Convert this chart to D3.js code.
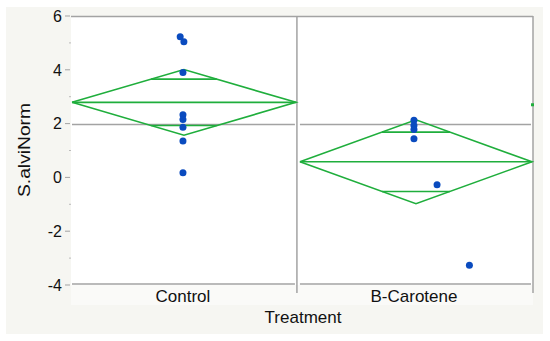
<!DOCTYPE html>
<html>
<head>
<meta charset="utf-8">
<script src="https://cdn.jsdelivr.net/npm/d3@7"></script>
<style>
  html, body { margin: 0; padding: 0; background: #fff; }
  svg { display: block; font-family: "Liberation Sans", Arial, sans-serif; }
</style>
</head>
<body>
<svg id="chart" width="550" height="341"></svg>
<script>
(function () {
// groups and their values
const groups = ['Control', 'B-Carotene'];
const controlValues = [5.23, 5.04, 3.90, 2.33, 2.15, 1.86, 1.35, 0.17];
const controlJitter = [-0.006, 0.002, 0, 0, 0, 0, 0, 0];
const caroteneValues = [2.12, 1.93, 1.78, 1.44, -0.27, -3.27];
const caroteneJitter = [0, 0, 0, 0, 0.05, 0.12];
const groupMeans = [2.79, 0.58];
const groupHalfCI = [1.22, 1.56];
const grandMean = 1.97;
const yTicks = [-4, -2, 0, 2, 4, 6];
const yMinorTicks = [-3, -1, 1, 3, 5];

const svg = d3.select('#chart');
const pLeft = 71, pRight = 533, pTop = 16, pBottom = 285;
const split = 0.489; // share of the width for the first group

const y = d3.scaleLinear().domain([-4, 6]).range([pBottom, pTop]);
// x position inside the whole frame, 0..1
const x = d3.scaleLinear().domain([0, 1]).range([pLeft, pRight]);
const panels = [[0, split], [split, 1]];

const grey = '#a3a3a3';
const green = '#1fae3c';
const blue = '#0a4bbf';

// backgrounds
svg.append('rect').attr('x', 6).attr('y', 7).attr('width', 537).attr('height', 327).attr('fill', '#f6f6f2');
svg.append('rect').attr('x', pLeft).attr('y', pBottom).attr('width', pRight - pLeft).attr('height', 20).attr('fill', '#fafaf8');
svg.append('rect').attr('x', pLeft).attr('y', pTop).attr('width', pRight - pLeft).attr('height', pBottom - pTop).attr('fill', '#fff');

// y axis
const yAxis = svg.append('g');
yAxis.selectAll('line.maj').data(yTicks).enter().append('line')
  .attr('x1', 65).attr('x2', 70).attr('y1', d => y(d)).attr('y2', d => y(d))
  .attr('stroke', grey).attr('stroke-width', 1);
yAxis.selectAll('line.min').data(yMinorTicks).enter().append('line')
  .attr('x1', 69).attr('x2', 71).attr('y1', d => y(d)).attr('y2', d => y(d))
  .attr('stroke', '#bbb').attr('stroke-width', 1);
yAxis.selectAll('text').data(yTicks).enter().append('text')
  .attr('x', 62).attr('y', d => y(d)).attr('dy', '0.36em')
  .attr('text-anchor', 'end').attr('font-size', 16).attr('fill', '#111')
  .text(d => d);

svg.append('text')
  .attr('transform', `translate(30,150) rotate(-90)`)
  .attr('text-anchor', 'middle').attr('font-size', 17).attr('fill', '#111')
  .attr('textLength', 94).attr('lengthAdjust', 'spacingAndGlyphs')
  .text('S.alviNorm');

// frame lines
svg.append('line').attr('x1', pLeft).attr('x2', pRight).attr('y1', pTop + 0.5).attr('y2', pTop + 0.5)
  .attr('stroke', grey).attr('stroke-width', 1.5);
[split, 1].forEach(p => {
  svg.append('line').attr('x1', x(p)).attr('x2', x(p)).attr('y1', pTop).attr('y2', pBottom + 8)
    .attr('stroke', grey).attr('stroke-width', 1.5);
});
panels.forEach((p, i) => {
  const x0 = x(p[0]) + (i ? 3 : 1), x1 = x(p[1]) - 2;
  svg.append('line').attr('x1', x0).attr('x2', x1).attr('y1', pBottom - 1).attr('y2', pBottom - 1)
    .attr('stroke', grey).attr('stroke-width', 1.5);
  // grand mean line
  svg.append('line').attr('x1', x0).attr('x2', x1).attr('y1', y(grandMean)).attr('y2', y(grandMean))
    .attr('stroke', grey).attr('stroke-width', 1.5);
});

// mean diamonds
panels.forEach((p, i) => {
  const x0 = x(p[0]) + (i ? 3 : 1), x1 = x(p[1]) - 1;
  const cx = (x0 + x1) / 2, hw = (x1 - x0) / 2;
  const m = groupMeans[i], ci = groupHalfCI[i];
  const g = svg.append('g').attr('fill', 'none').attr('stroke', green).attr('stroke-width', 1.6);
  g.append('path').attr('d', d3.line()([[x0, y(m)], [cx, y(m + ci)], [x1, y(m)], [cx, y(m - ci)], [x0, y(m)]]))
    .attr('stroke-linejoin', 'miter');
  g.append('line').attr('x1', x0).attr('x2', x1).attr('y1', y(m)).attr('y2', y(m));
  const off = ci / Math.SQRT2;
  const w = hw * (1 - 1 / Math.SQRT2);
  [m + off, m - off].forEach(v => {
    g.append('line').attr('x1', cx - w).attr('x2', cx + w).attr('y1', y(v)).attr('y2', y(v));
  });
});

// small mark at right edge
svg.append('rect').attr('x', pRight - 2).attr('y', y(2.7) - 1.5).attr('width', 3).attr('height', 3).attr('fill', green);

// points
const sets = [[controlValues, controlJitter], [caroteneValues, caroteneJitter]];
sets.forEach((s, i) => {
  const cx = x((panels[i][0] + panels[i][1]) / 2);
  svg.append('g').selectAll('circle').data(s[0]).enter().append('circle')
    .attr('cx', (d, j) => cx - 1 + s[1][j] * (pRight - pLeft))
    .attr('cy', d => y(d))
    .attr('r', 3.5)
    .attr('fill', blue);
});

// x labels
svg.selectAll('text.grp').data(groups).enter().append('text')
  .attr('class', 'grp')
  .attr('x', (d, i) => x((panels[i][0] + panels[i][1]) / 2) - 1)
  .attr('y', 302).attr('text-anchor', 'middle').attr('font-size', 17).attr('fill', '#111')
  .text(d => d);
svg.append('text').attr('x', 303).attr('y', 323).attr('text-anchor', 'middle')
  .attr('font-size', 17).attr('fill', '#111').text('Treatment');
})();
</script>
</body>
</html>
